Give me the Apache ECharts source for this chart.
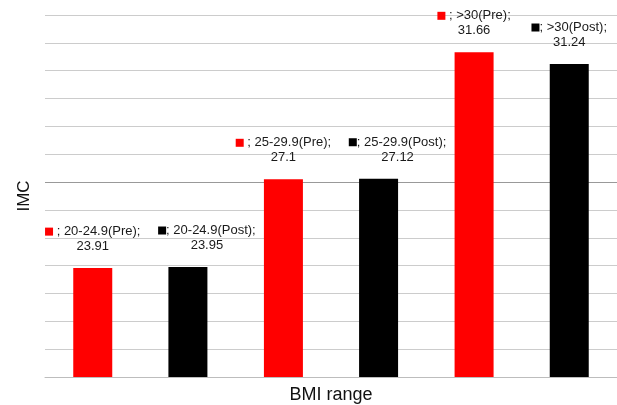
<!DOCTYPE html>
<html>
<head>
<meta charset="utf-8">
<script src="https://cdn.jsdelivr.net/npm/echarts@6/dist/echarts.min.js"></script>
<style>
html,body{margin:0;padding:0;background:#fff;}
#c{width:617px;height:405px;}
</style>
</head>
<body>
<div id="c"></div>
<script>
const categories = ['20-24.9', '25-29.9', '>30'];
const preValues = [23.91, 27.1, 31.66];
const postValues = [23.95, 27.12, 31.24];
const seriesNames = ['Pre', 'Post'];
const yMin = 20, yMax = 33, yStep = 1;
const refLine = 27;
// horizontal nudges of the Post data labels (px), as placed in the original
const postLabelShift = [19, 19, 0];

const FONT = '"Liberation Sans", Arial, Helvetica, sans-serif';
const chart = echarts.init(document.getElementById('c'), null, {renderer: 'canvas'});

function makeLabel(color, sep) {
  return {
    show: true,
    position: 'top',
    distance: 14,
    fontFamily: FONT,
    fontSize: 13,
    lineHeight: 15,
    color: '#1a1a1a',
    formatter: function (p) {
      return '{sq|}{t|' + sep + '; ' + p.name + '(' + p.seriesName + ');}\n{t|' + p.value + '}';
    },
    rich: {
      sq: {backgroundColor: color, width: 8, height: 8},
      t: {fontFamily: FONT, fontSize: 13, lineHeight: 15, color: '#1a1a1a'}
    }
  };
}

const postData = postValues.map(function (v, i) {
  return {value: v, label: {offset: [postLabelShift[i], 0]}};
});

chart.setOption({
  animation: false,
  grid: {left: 45, right: 0, top: 15, bottom: 28, containLabel: false, outerBoundsMode: 'none'},
  xAxis: {
    type: 'category',
    data: categories,
    name: 'BMI range',
    nameLocation: 'middle',
    nameGap: 9,
    nameTextStyle: {fontFamily: FONT, fontSize: 18, color: '#111'},
    axisLine: {show: true, lineStyle: {color: '#bdbdbd', width: 1}},
    axisTick: {show: false},
    axisLabel: {show: false}
  },
  yAxis: {
    type: 'value',
    min: yMin,
    max: yMax,
    interval: yStep,
    name: 'IMC',
    nameLocation: 'middle',
    nameGap: 12,
    nameRotate: 90,
    nameTextStyle: {fontFamily: FONT, fontSize: 17, color: '#111'},
    axisLine: {show: false},
    axisTick: {show: false},
    axisLabel: {show: false},
    splitLine: {show: true, lineStyle: {color: '#cccccc', width: 1}}
  },
  series: [
    {
      name: 'ref',
      type: 'line',
      data: [],
      z: 1,
      silent: true,
      markLine: {
        silent: true,
        z: 1,
        symbol: 'none',
        label: {show: false},
        lineStyle: {color: '#999999', width: 1, type: 'solid'},
        data: [{yAxis: refLine}]
      }
    },
    {
      name: seriesNames[0],
      type: 'bar',
      z: 3,
      data: preValues,
      barWidth: 39,
      barGap: '144%',
      itemStyle: {color: '#ff0000'},
      label: makeLabel('#ff0000', ' ')
    },
    {
      name: seriesNames[1],
      type: 'bar',
      z: 3,
      data: postData,
      barWidth: 39,
      barGap: '144%',
      itemStyle: {color: '#000000'},
      label: makeLabel('#000000', '')
    }
  ]
});
</script>
</body>
</html>
